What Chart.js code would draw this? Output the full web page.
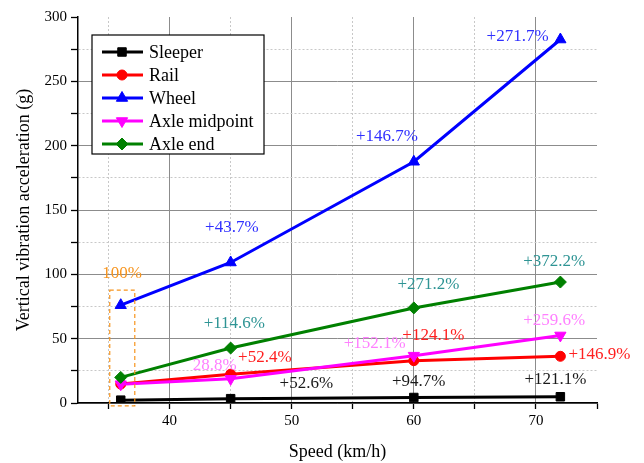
<!DOCTYPE html>
<html>
<head>
<meta charset="utf-8">
<script src="https://cdn.jsdelivr.net/npm/chart.js@4.4.0/dist/chart.umd.min.js"></script>
<style>
  body { margin: 0; background: #fff; }
</style>
</head>
<body>
<canvas id="myChart" width="644" height="463"></canvas>
<script>
const speeds = [36, 45, 60, 72];
const sleeper = [2.2, 3.36, 4.28, 4.86];
const rail = [14.7, 22.4, 32.9, 36.3];
const wheel = [76, 109.2, 187.5, 282.5];
const axleMidpoint = [14.6, 18.8, 36.8, 52.5];
const axleEnd = [19.9, 42.7, 73.9, 94.0];

const xTicks = [40, 50, 60, 70];
const yTicks = [0, 50, 100, 150, 200, 250, 300];

// percentage notes: text, speed, value, colour
const notes = [
    ['+271.7%', 68.5, 285, '#3030ff'],
    ['+146.7%', 57.8, 207, '#3030ff'],
    ['+43.7%', 45.1, 136, '#3030ff'],
    ['100%', 36.1, 101, '#f7941d'],
    ['+114.6%', 45.3, 61.4, '#2e9494'],
    ['+271.2%', 61.2, 91.7, '#2e9494'],
    ['+372.2%', 71.5, 109.8, '#2e9494'],
    ['28.8%', 43.7, 29, '#ff80ff'],
    ['+152.1%', 56.8, 46.6, '#ff80ff'],
    ['+259.6%', 71.5, 64, '#ff80ff'],
    ['+52.4%', 47.8, 35, '#ff2020'],
    ['+124.1%', 61.6, 52.8, '#ff2020'],
    ['+146.9%', 75.2, 37.3, '#ff2020'],
    ['+52.6%', 51.2, 14.8, '#1a1a1a'],
    ['+94.7%', 60.4, 17, '#1a1a1a'],
    ['+121.1%', 71.6, 17.9, '#1a1a1a']
];

const serif = "'Liberation Serif', 'Times New Roman', serif";
Chart.defaults.font.family = serif;
Chart.defaults.color = '#000';

function makeSet(label, values, color, style, radius, rotation, idx) {
    return {
        label: label,
        data: speeds.map((s, i) => ({x: s, y: values[i]})),
        borderColor: color,
        backgroundColor: color,
        borderWidth: 3,
        pointStyle: style,
        pointRadius: radius,
        pointHoverRadius: radius,
        pointRotation: rotation,
        pointBorderWidth: 1,
        order: 5 - idx
    };
}

const datasets = [
    makeSet('Sleeper', sleeper, '#000000', 'rect', 6, 0, 0),
    makeSet('Rail', rail, '#ff0000', 'circle', 5, 0, 1),
    makeSet('Wheel', wheel, '#0000ff', 'triangle', 6.5, 0, 2),
    makeSet('Axle midpoint', axleMidpoint, '#ff00ff', 'triangle', 6.5, 180, 3),
    makeSet('Axle end', axleEnd, '#008000', 'rectRot', 6, 0, 4)
];

// notes and the dashed box round the first point
const notesPlugin = {
    id: 'notes',
    afterDatasetsDraw(chart) {
        const ctx = chart.ctx;
        const x = chart.scales.x, y = chart.scales.y;
        ctx.save();
        ctx.strokeStyle = '#f7941d';
        ctx.lineWidth = 1.2;
        ctx.setLineDash([4, 3]);
        const x0 = x.getPixelForValue(35.1), x1 = x.getPixelForValue(37.15);
        const y0 = y.getPixelForValue(87.8), y1 = y.getPixelForValue(-2.3);
        ctx.strokeRect(x0, y0, x1 - x0, y1 - y0);
        ctx.setLineDash([]);
        ctx.font = '17px ' + serif;
        ctx.textAlign = 'center';
        ctx.textBaseline = 'middle';
        for (const n of notes) {
            ctx.fillStyle = n[3];
            ctx.fillText(n[0], x.getPixelForValue(n[1]), y.getPixelForValue(n[2]));
        }
        ctx.restore();
    }
};

// boxed legend inside the plot, line with marker like the original
const legendPlugin = {
    id: 'boxLegend',
    afterDraw(chart) {
        const ctx = chart.ctx;
        ctx.save();
        ctx.fillStyle = '#fff';
        ctx.fillRect(92, 35, 172, 119);
        ctx.strokeStyle = '#000';
        ctx.lineWidth = 1.2;
        ctx.strokeRect(92, 35, 172, 119);
        ctx.font = '18px ' + serif;
        ctx.textBaseline = 'middle';
        chart.data.datasets.forEach((d, i) => {
            const yy = 52 + i * 23;
            ctx.strokeStyle = d.borderColor;
            ctx.lineWidth = 3;
            ctx.beginPath();
            ctx.moveTo(102, yy);
            ctx.lineTo(143, yy);
            ctx.stroke();
            ctx.fillStyle = d.backgroundColor;
            ctx.lineWidth = 1;
            Chart.helpers.drawPoint(ctx, {pointStyle: d.pointStyle, radius: d.pointRadius, rotation: d.pointRotation, borderWidth: 1}, 122, yy);
            ctx.fillStyle = '#000';
            ctx.fillText(d.label, 149, yy + 1);
        });
        ctx.restore();
    }
};

const ctx = document.getElementById('myChart').getContext('2d');
const myChart = new Chart(ctx, {
    type: 'line',
    data: { datasets: datasets },
    options: {
        responsive: false,
        animation: false,
        layout: { padding: { left: 0, top: 17, right: 47, bottom: 0 } },
        plugins: {
            legend: { display: false },
            tooltip: { enabled: false }
        },
        scales: {
            x: {
                type: 'linear',
                min: 32.5,
                max: 75,
                afterBuildTicks: s => {
                    const t = [];
                    for (let v = 35; v <= 75; v += 5) t.push({value: v});
                    s.ticks = t;
                },
                afterFit: s => { s.height = 60; },
                grid: {
                    color: c => c.tick && c.tick.value == 75 ? 'rgba(0,0,0,0)' :
                        (c.tick && xTicks.includes(c.tick.value) ? '#8c8c8c' : '#c8c8c8'),
                    lineWidth: 1,
                    tickLength: 6,
                    tickColor: '#000',
                    tickWidth: 1.3
                },
                border: {
                    color: '#000',
                    width: 1.5,
                    dash: c => c.tick && !xTicks.includes(c.tick.value) ? [2, 2] : []
                },
                ticks: {
                    autoSkip: false,
                    maxRotation: 0,
                    padding: 3,
                    font: { size: 15 },
                    color: '#000',
                    callback: v => xTicks.includes(v) ? v : ''
                },
                title: {
                    display: true,
                    text: 'Speed (km/h)',
                    font: { size: 18 },
                    color: '#000',
                    padding: { top: 2, bottom: 0 }
                }
            },
            y: {
                min: 0,
                max: 300,
                afterBuildTicks: s => {
                    const t = [];
                    for (let v = 0; v <= 300; v += 25) t.push({value: v});
                    s.ticks = t;
                },
                afterFit: s => { s.width = 78; },
                grid: {
                    color: c => c.tick && c.tick.value == 300 ? 'rgba(0,0,0,0)' :
                        (c.tick && yTicks.includes(c.tick.value) ? '#8c8c8c' : '#c8c8c8'),
                    lineWidth: 1,
                    tickLength: 7,
                    tickColor: '#000',
                    tickWidth: 1.3
                },
                border: {
                    color: '#000',
                    width: 1.5,
                    dash: c => c.tick && !yTicks.includes(c.tick.value) ? [2, 2] : []
                },
                ticks: {
                    autoSkip: false,
                    padding: 4,
                    font: { size: 15 },
                    color: '#000',
                    callback: v => yTicks.includes(v) ? v : ''
                },
                title: {
                    display: true,
                    text: 'Vertical vibration acceleration (g)',
                    font: { size: 18 },
                    color: '#000',
                    padding: { top: 13, bottom: 0 }
                }
            }
        }
    },
    plugins: [notesPlugin, legendPlugin]
});
</script>
</body>
</html>
